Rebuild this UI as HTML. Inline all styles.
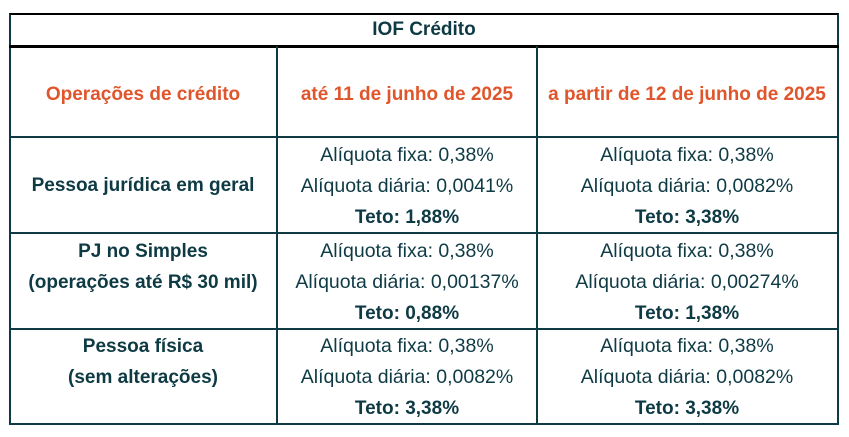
<!DOCTYPE html>
<html><head><meta charset="utf-8"><style>
body{margin:0;width:849px;height:437px;background:#fff;font-family:"Liberation Sans",sans-serif;color:#0e3a44;position:relative;overflow:hidden}
.l{position:absolute;background:#0e3a44}
.t{position:absolute;text-align:center;font-size:19.5px;line-height:20px;white-space:nowrap}
.b{font-weight:bold;font-size:19px}
.t b{font-size:19px}
.o{color:#e0552b;font-weight:bold;font-size:19px}
</style></head><body>
<div style="position:absolute;left:9px;top:13px;width:826px;height:408px;border:2px solid #0e3a44;border-top-color:#000"></div>
<div class="l" style="left:9px;top:45px;width:830px;height:3px;background:#000"></div>
<div class="l" style="left:9px;top:136px;width:830px;height:2px"></div>
<div class="l" style="left:9px;top:232px;width:830px;height:2px"></div>
<div class="l" style="left:9px;top:328px;width:830px;height:2px"></div>
<div class="l" style="left:276px;top:46px;width:2px;height:377px"></div>
<div class="l" style="left:536px;top:46px;width:2px;height:377px"></div>

<div class="t b" style="left:9px;width:830px;top:20px">IOF Crédito</div>
<div class="t o" style="left:9px;width:268px;top:85px">Operações de crédito</div>
<div class="t o" style="left:277px;width:260px;top:85px">até 11 de junho de 2025</div>
<div class="t o" style="left:537px;width:300px;top:85px">a partir de 12 de junho de 2025</div>

<div class="t b" style="left:9px;width:268px;top:176px">Pessoa jurídica em geral</div>
<div class="t" style="left:277px;width:260px;top:140px;line-height:31px">Alíquota fixa: 0,38%<br>Alíquota diária: 0,0041%<br><b>Teto: 1,88%</b></div>
<div class="t" style="left:537px;width:300px;top:140px;line-height:31px">Alíquota fixa: 0,38%<br>Alíquota diária: 0,0082%<br><b>Teto: 3,38%</b></div>

<div class="t b" style="left:9px;width:268px;top:236px;line-height:31px">PJ no Simples<br>(operações até R$ 30 mil)</div>
<div class="t" style="left:277px;width:260px;top:236px;line-height:31px">Alíquota fixa: 0,38%<br>Alíquota diária: 0,00137%<br><b>Teto: 0,88%</b></div>
<div class="t" style="left:537px;width:300px;top:236px;line-height:31px">Alíquota fixa: 0,38%<br>Alíquota diária: 0,00274%<br><b>Teto: 1,38%</b></div>

<div class="t b" style="left:9px;width:268px;top:331px;line-height:31px">Pessoa física<br>(sem alterações)</div>
<div class="t" style="left:277px;width:260px;top:331px;line-height:31px">Alíquota fixa: 0,38%<br>Alíquota diária: 0,0082%<br><b>Teto: 3,38%</b></div>
<div class="t" style="left:537px;width:300px;top:331px;line-height:31px">Alíquota fixa: 0,38%<br>Alíquota diária: 0,0082%<br><b>Teto: 3,38%</b></div>
</body></html>
